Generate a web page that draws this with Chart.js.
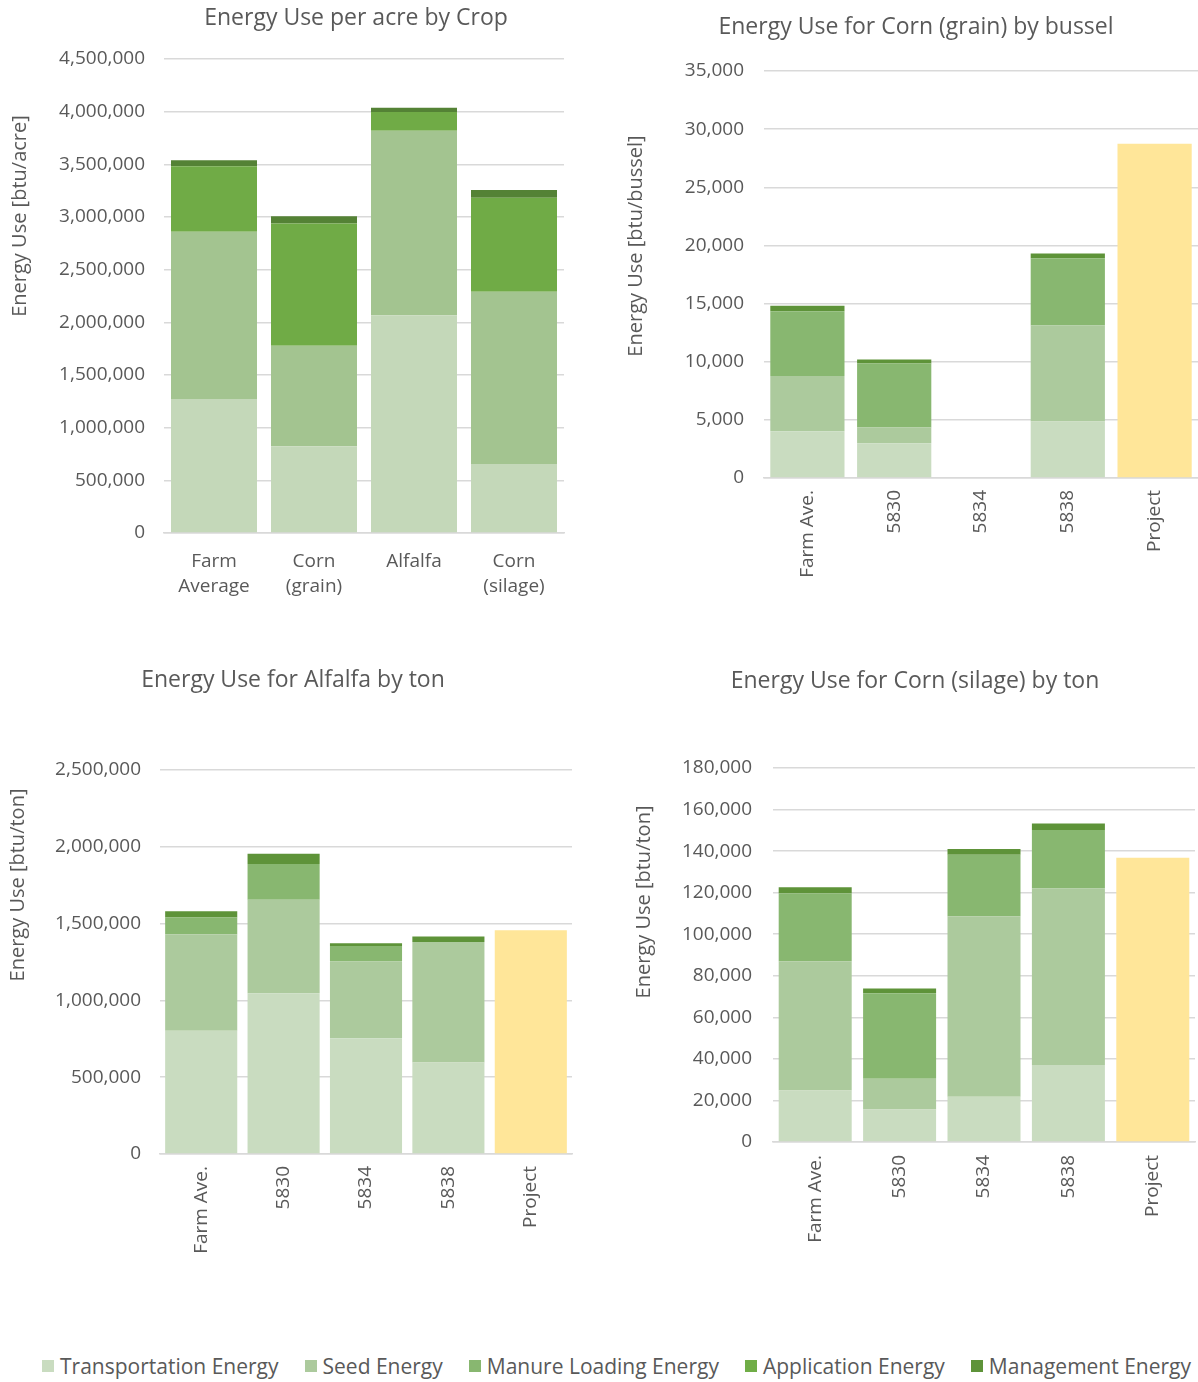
<!DOCTYPE html>
<html>
<head>
<meta charset="utf-8">
<script src="https://cdn.jsdelivr.net/npm/chart.js"></script>
<style>
  body { margin: 0; background: #fff; width: 1198px; height: 1382px; position: relative; overflow: hidden; font-family: "Open Sans", sans-serif; }
  canvas { position: absolute; }
  #legend {
    position: absolute; left: 42px; top: 1352px;
    display: flex; gap: 26px; align-items: center;
    font-size: 21px; color: #595959; white-space: nowrap;
  }
  #legend .item { display: flex; align-items: center; gap: 6px; }
  #legend .box { width: 12px; height: 12px; display: inline-block; }
</style>
</head>
<body>
<canvas id="acreChart" width="575" height="610" style="left:0;top:0"></canvas>
<canvas id="grainChart" width="598" height="600" style="left:600px;top:0"></canvas>
<canvas id="alfalfaChart" width="580" height="620" style="left:0;top:650px"></canvas>
<canvas id="silageChart" width="588" height="620" style="left:610px;top:650px"></canvas>
<div id="legend"></div>

<script>
// series names + legend colours
const seriesNames = ['Transportation Energy', 'Seed Energy', 'Manure Loading Energy', 'Application Energy', 'Management Energy'];
const legendColors = ['#C9DCC0', '#ACCA9D', '#88B770', '#70AD47', '#5E9339'];

// 1. Energy use per acre by crop
const cropLabels = [['Farm', 'Average'], ['Corn', '(grain)'], 'Alfalfa', ['Corn', '(silage)']];
const acreTransport = [1273000, 824000, 2067000, 655000];
const acreSeed = [1587000, 954000, 1752000, 1636000];
const acreManure = [0, 0, 0, 0];
const acreApplication = [622000, 1161000, 179000, 891000];
const acreManagement = [56000, 67000, 38000, 75000];

// fields used by the three per-unit charts
const fieldLabels = ['Farm Ave.', '5830', '5834', '5838', 'Project'];

// 2. Corn (grain) per bussel
const grainTransport = [4010, 2990, null, 4860, null];
const grainSeed = [4760, 1360, null, 8260, null];
const grainManure = [5570, 5500, null, 5770, null];
const grainManagement = [470, 340, null, 410, null];
const grainProject = [null, null, null, null, 28750];

// 3. Alfalfa per ton
const alfalfaTransport = [802000, 1046000, 753000, 596000, null];
const alfalfaSeed = [629000, 609000, 501000, 784000, null];
const alfalfaManure = [108000, 233000, 100000, 0, null];
const alfalfaManagement = [41000, 67000, 18000, 36000, null];
const alfalfaProject = [null, null, null, null, 1457000];

// 4. Corn (silage) per ton
const silageTransport = [24800, 15700, 21800, 37100, null];
const silageSeed = [62200, 14800, 86800, 84900, null];
const silageManure = [32700, 41100, 29700, 28200, null];
const silageManagement = [2900, 2300, 2700, 3100, null];
const silageProject = [null, null, null, null, 136800];

const textColor = '#595959';
const gridColor = '#D9D9D9';
const fontFamily = '"Open Sans", sans-serif';

// Excel places the chart title and the y-axis title off-centre, so draw them here
const excelTitles = {
    id: 'excelTitles',
    afterDraw(chart, args, opts) {
        const ctx = chart.ctx;
        ctx.save();
        ctx.fillStyle = textColor;
        ctx.textAlign = 'center';
        ctx.textBaseline = 'middle';

        ctx.font = '23px ' + fontFamily;
        ctx.fillText(opts.title.text, opts.title.x, opts.title.y);

        ctx.translate(opts.yTitle.x, opts.yTitle.y);
        ctx.rotate(-Math.PI / 2);
        ctx.font = '20px ' + fontFamily;
        ctx.fillText(opts.yTitle.text, 0, 0);
        ctx.restore();
    }
};

function renderChart(canvasId, cfg) {
    const ctx = document.getElementById(canvasId).getContext('2d');
    const datasets = cfg.series.map(s => ({
        label: s.label,
        data: s.data,
        backgroundColor: s.color,
        borderWidth: 0,
        barPercentage: cfg.barPct,
        categoryPercentage: 1
    }));

    return new Chart(ctx, {
        type: 'bar',
        data: { labels: cfg.labels, datasets: datasets },
        plugins: [excelTitles],
        options: {
            responsive: false,
            animation: false,
            layout: { padding: { left: 0, right: cfg.padRight, top: cfg.plotTop, bottom: 0 } },
            plugins: {
                legend: { display: false },
                tooltip: { enabled: false },
                title: { display: false },
                excelTitles: { title: cfg.title, yTitle: cfg.yTitle }
            },
            scales: {
                x: {
                    stacked: true,
                    grid: { display: false, drawTicks: false },
                    border: { display: true, color: gridColor, width: 1.5 },
                    ticks: {
                        color: textColor,
                        autoSkip: false,
                        minRotation: cfg.rotate ? 90 : 0,
                        maxRotation: cfg.rotate ? 90 : 0,
                        padding: cfg.xPad,
                        font: { family: fontFamily, size: 19, lineHeight: 1.32 }
                    },
                    afterFit: scale => { scale.height = cfg.xHeight; }
                },
                y: {
                    stacked: true,
                    min: 0,
                    max: cfg.max,
                    grid: { color: gridColor, lineWidth: 1.5, drawTicks: false },
                    border: { display: false },
                    ticks: {
                        stepSize: cfg.step,
                        color: textColor,
                        padding: cfg.yPad,
                        font: { family: fontFamily, size: 19 },
                        callback: v => v.toLocaleString('en-US')
                    },
                    afterFit: scale => { scale.width = cfg.yWidth; }
                }
            }
        }
    });
}

const acreColors = ['#C4D8B9', '#A3C490', '#88B770', '#70AB46', '#548235'];
const unitColors = ['#C9DCC0', '#ACCA9D', '#88B770', '#5E9339'];
const projectColor = '#FFE699';

renderChart('acreChart', {
    title: { text: 'Energy Use per acre by Crop', x: 356, y: 18 },
    yTitle: { text: 'Energy Use [btu/acre]', x: 20, y: 216 },
    labels: cropLabels,
    series: [acreTransport, acreSeed, acreManure, acreApplication, acreManagement]
        .map((d, i) => ({ label: seriesNames[i], data: d, color: acreColors[i] })),
    max: 4500000, step: 500000,
    barPct: 0.86, rotate: false,
    plotTop: 59, xHeight: 77, xPad: 16,
    yWidth: 164, yPad: 19, padRight: 11
});

renderChart('grainChart', {
    title: { text: 'Energy Use for Corn (grain) by bussel', x: 316, y: 27 },
    yTitle: { text: 'Energy Use [btu/bussel]', x: 36, y: 246 },
    labels: fieldLabels,
    series: [
        { label: seriesNames[0], data: grainTransport, color: unitColors[0] },
        { label: seriesNames[1], data: grainSeed, color: unitColors[1] },
        { label: seriesNames[2], data: grainManure, color: unitColors[2] },
        { label: seriesNames[4], data: grainManagement, color: unitColors[3] },
        { label: 'Project', data: grainProject, color: projectColor }
    ],
    max: 35000, step: 5000,
    barPct: 0.855, rotate: true,
    plotTop: 71, xHeight: 122, xPad: 12,
    yWidth: 164, yPad: 20, padRight: 0
});

renderChart('alfalfaChart', {
    title: { text: 'Energy Use for Alfalfa by ton', x: 293, y: 30 },
    yTitle: { text: 'Energy Use [btu/ton]', x: 18, y: 235 },
    labels: fieldLabels,
    series: [
        { label: seriesNames[0], data: alfalfaTransport, color: unitColors[0] },
        { label: seriesNames[1], data: alfalfaSeed, color: unitColors[1] },
        { label: seriesNames[2], data: alfalfaManure, color: unitColors[2] },
        { label: seriesNames[4], data: alfalfaManagement, color: unitColors[3] },
        { label: 'Project', data: alfalfaProject, color: projectColor }
    ],
    max: 2500000, step: 500000,
    barPct: 0.875, rotate: true,
    plotTop: 120, xHeight: 116, xPad: 12,
    yWidth: 160, yPad: 19, padRight: 8
});

renderChart('silageChart', {
    title: { text: 'Energy Use for Corn (silage) by ton', x: 305, y: 31 },
    yTitle: { text: 'Energy Use [btu/ton]', x: 34, y: 252 },
    labels: fieldLabels,
    series: [
        { label: seriesNames[0], data: silageTransport, color: unitColors[0] },
        { label: seriesNames[1], data: silageSeed, color: unitColors[1] },
        { label: seriesNames[2], data: silageManure, color: unitColors[2] },
        { label: seriesNames[4], data: silageManagement, color: unitColors[3] },
        { label: 'Project', data: silageProject, color: projectColor }
    ],
    max: 180000, step: 20000,
    barPct: 0.865, rotate: true,
    plotTop: 118, xHeight: 128, xPad: 13,
    yWidth: 163, yPad: 21, padRight: 3
});

// shared legend under the four charts
const legend = document.getElementById('legend');
seriesNames.forEach((name, i) => {
    const item = document.createElement('span');
    item.className = 'item';
    item.innerHTML = `<span class="box" style="background:${legendColors[i]}"></span>${name}`;
    legend.appendChild(item);
});
</script>
</body>
</html>
